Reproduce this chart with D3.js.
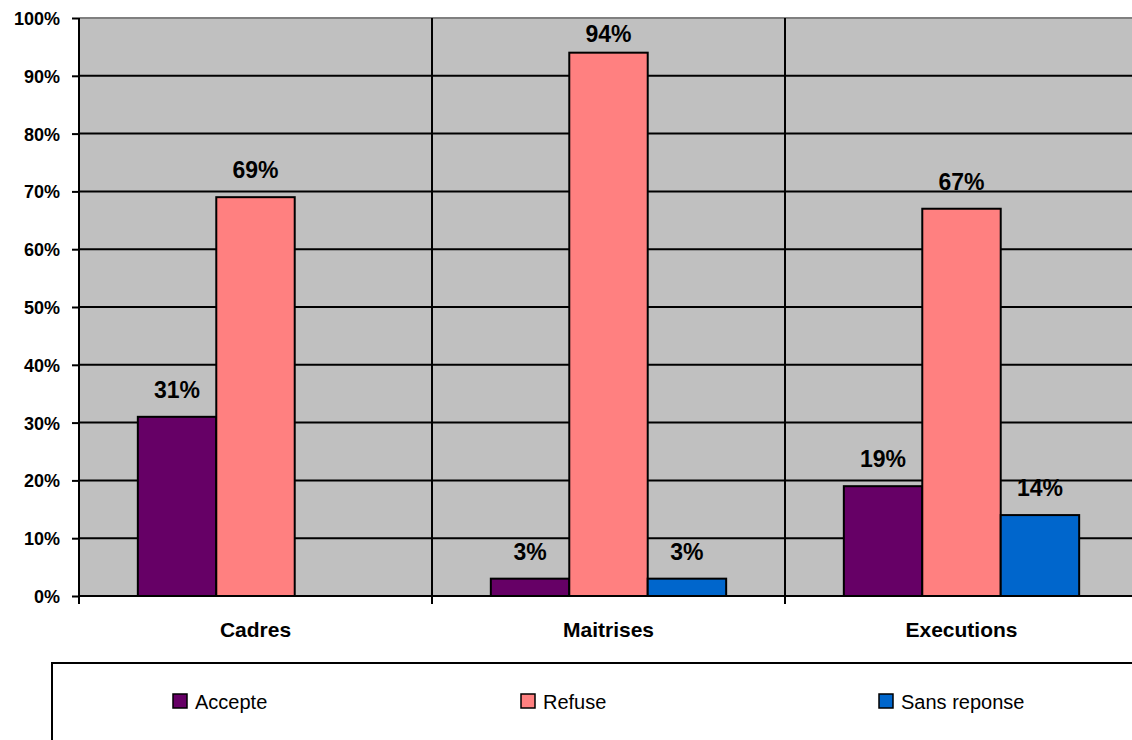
<!DOCTYPE html>
<html>
<head>
<meta charset="utf-8">
<script src="https://cdn.jsdelivr.net/npm/d3@7"></script>
<style>
  html, body { margin: 0; padding: 0; background: #fff; }
  svg { display: block; }
  text { font-family: "Liberation Sans", Arial, sans-serif; }
</style>
</head>
<body>
<svg id="chart" width="1132" height="740"></svg>
<script>
// Categories, series and values (percentages)
const categories = ["Cadres", "Maitrises", "Executions"];
const seriesNames = ["Accepte", "Refuse", "Sans reponse"];
const accepte = [31, 3, 19];
const refuse = [69, 94, 67];
const sansReponse = [0, 3, 14];
const yTicks = [0, 10, 20, 30, 40, 50, 60, 70, 80, 90, 100];
const seriesColors = ["#660066", "#FF8080", "#0066CC"];

const values = [accepte, refuse, sansReponse];

const svg = d3.select("#chart");
const plot = { left: 79, right: 1138, top: 18, bottom: 596 };

const x0 = d3.scaleBand().domain(categories).range([plot.left, plot.right]).padding(0);
const x1 = d3.scaleBand().domain(seriesNames).range([0, x0.bandwidth()])
  .paddingInner(0).paddingOuter(0.75);
const y = d3.scaleLinear().domain([0, 100]).range([plot.bottom, plot.top]);

// plot background
svg.append("rect")
  .attr("x", plot.left).attr("y", plot.top)
  .attr("width", plot.right - plot.left).attr("height", plot.bottom - plot.top)
  .attr("fill", "#C0C0C0");

// horizontal gridlines
svg.append("g").selectAll("line")
  .data(yTicks.filter(t => t > 0))
  .join("line")
  .attr("x1", plot.left).attr("x2", plot.right)
  .attr("y1", d => y(d)).attr("y2", d => y(d))
  .attr("stroke", d => d === 100 ? "#808080" : "#000")
  .attr("stroke-width", 2);

// vertical separators between categories
svg.append("g").selectAll("line")
  .data(categories.slice(1))
  .join("line")
  .attr("x1", d => x0(d)).attr("x2", d => x0(d))
  .attr("y1", plot.top).attr("y2", plot.bottom + 8)
  .attr("stroke", "#000").attr("stroke-width", 2);

// bars
const barData = [];
categories.forEach((c, ci) => {
  seriesNames.forEach((s, si) => {
    barData.push({ cat: c, series: s, si, value: values[si][ci] });
  });
});
const shown = barData.filter(d => d.value > 0);

svg.append("g").selectAll("rect")
  .data(shown)
  .join("rect")
  .attr("x", d => x0(d.cat) + x1(d.series))
  .attr("y", d => y(d.value))
  .attr("width", x1.bandwidth())
  .attr("height", d => y(0) - y(d.value))
  .attr("fill", d => seriesColors[d.si])
  .attr("stroke", "#000")
  .attr("stroke-width", 2);

// value labels, kept inside the plot area near the top
svg.append("g").selectAll("text")
  .data(shown)
  .join("text")
  .attr("x", d => x0(d.cat) + x1(d.series) + x1.bandwidth() / 2)
  .attr("y", d => Math.max(y(d.value) - 19, plot.top + 24))
  .attr("text-anchor", "middle")
  .attr("font-size", 23)
  .attr("font-weight", "bold")
  .attr("fill", "#000")
  .text(d => d.value + "%");

// y axis
const yAxis = d3.axisLeft(y).tickValues(yTicks).tickSize(7).tickPadding(12)
  .tickFormat(d => d + "%");
const gy = svg.append("g").attr("transform", `translate(${plot.left},0)`).call(yAxis);
gy.select(".domain").attr("stroke", "#000").attr("stroke-width", 2)
  .attr("d", `M0,${plot.top}V${plot.bottom + 8}`);
gy.selectAll(".tick line").attr("stroke", "#000").attr("stroke-width", 2);
gy.selectAll(".tick text")
  .attr("font-family", "'Liberation Sans', Arial, sans-serif")
  .attr("font-size", 18).attr("font-weight", "bold").attr("fill", "#000")
  .attr("x", -19)
  .attr("dy", "0.36em");

// x axis baseline
svg.append("line")
  .attr("x1", plot.left).attr("x2", plot.right)
  .attr("y1", plot.bottom).attr("y2", plot.bottom)
  .attr("stroke", "#000").attr("stroke-width", 2);

// category labels
svg.append("g").selectAll("text")
  .data(categories)
  .join("text")
  .attr("x", d => x0(d) + x0.bandwidth() / 2)
  .attr("y", 637)
  .attr("text-anchor", "middle")
  .attr("font-size", 21)
  .attr("font-weight", "bold")
  .attr("fill", "#000")
  .text(d => d);

// legend
svg.append("rect")
  .attr("x", 52).attr("y", 663)
  .attr("width", 1200).attr("height", 200)
  .attr("fill", "#fff").attr("stroke", "#000").attr("stroke-width", 2);

const legendX = [173, 521, 879];
const lg = svg.append("g").selectAll("g")
  .data(seriesNames)
  .join("g")
  .attr("transform", (d, i) => `translate(${legendX[i]},694)`);
lg.append("rect")
  .attr("width", 14).attr("height", 14)
  .attr("fill", (d, i) => seriesColors[i])
  .attr("stroke", "#000").attr("stroke-width", 1.5);
lg.append("text")
  .attr("x", 22).attr("y", 15)
  .attr("font-size", 20)
  .attr("fill", "#000")
  .text(d => d);
</script>
</body>
</html>
